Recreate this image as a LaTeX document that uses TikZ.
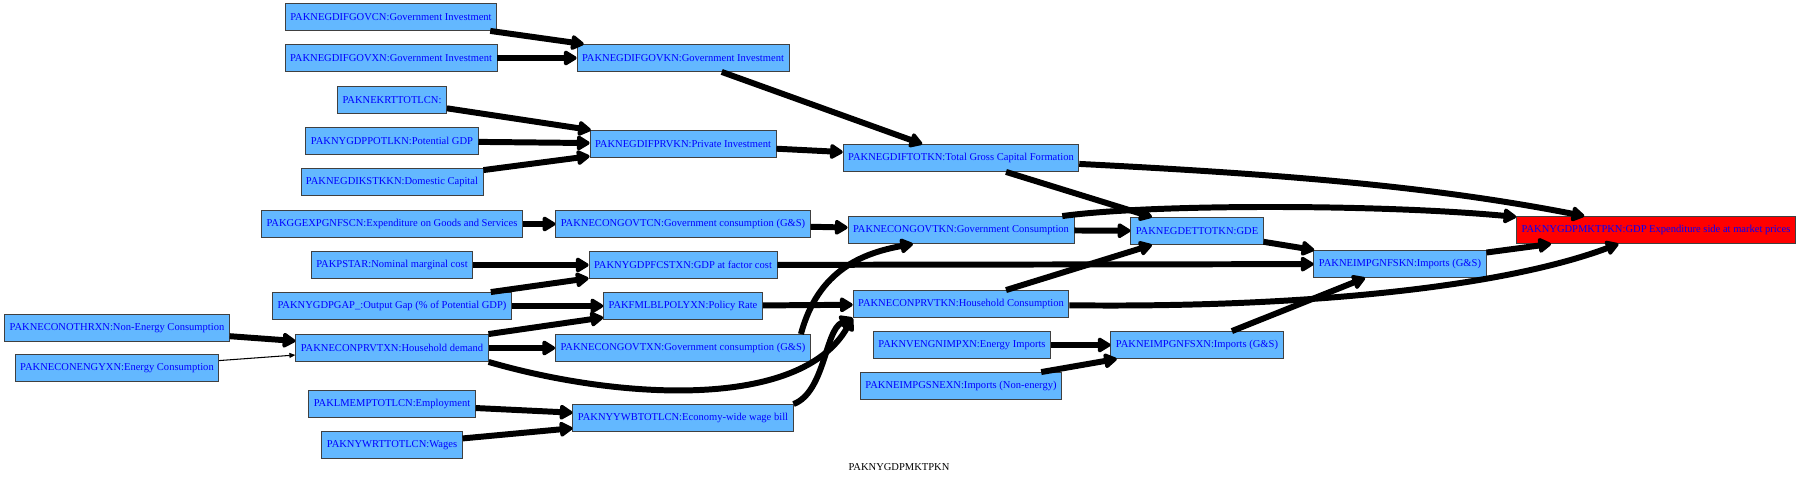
\documentclass[tikz,border=0pt]{standalone}
\usepackage{fontspec}
\setmainfont{Liberation Serif}
\usetikzlibrary{arrows.meta}
\definecolor{varblue}{HTML}{63B8FF}

\begin{document}
\begin{tikzpicture}[x=0.02cm, y=-0.02cm,
    var/.style={draw=black!75, line width=0.5pt, fill=varblue, text=blue,
      font=\fontsize{6}{7}\selectfont, inner xsep=0.1cm, inner ysep=0pt,
      minimum height=0.54cm},
    target/.style={var, fill=red},
    link/.style={line width=3.4pt, -{Triangle[length=0.29cm,width=0.33cm,round]}},
    thinlink/.style={line width=0.6pt, -{Triangle[length=0.12cm,width=0.1cm]}}]
  \useasboundingbox (0,0) rectangle (1800,480);

  % Far left inputs
  \node[var] (conothr) at (117,328) {PAKNECONOTHRXN:Non-Energy Consumption};
  \node[var] (conengy) at (117,368) {PAKNECONENGYXN:Energy Consumption};

  % Second column
  \node[var] (govcn) at (391,17) {PAKNEGDIFGOVCN:Government Investment};
  \node[var] (govxn) at (391,58) {PAKNEGDIFGOVXN:Government Investment};
  \node[var] (krt) at (392,100) {PAKNEKRTTOTLCN:};
  \node[var] (ygdppot) at (392,141) {PAKNYGDPPOTLKN:Potential GDP};
  \node[var] (diks) at (392,182) {PAKNEGDIKSTKKN:Domestic Capital};
  \node[var] (ggexp) at (392,224) {PAKGGEXPGNFSCN:Expenditure on Goods and Services};
  \node[var] (pstar) at (392,265) {PAKPSTAR:Nominal marginal cost};
  \node[var] (gap) at (392,306) {PAKNYGDPGAP\_:Output Gap (\% of Potential GDP)};
  \node[var] (conprvtxn) at (392,348) {PAKNECONPRVTXN:Household demand};
  \node[var] (lmemp) at (392,404) {PAKLMEMPTOTLCN:Employment};
  \node[var] (ywrt) at (392,445) {PAKNYWRTTOTLCN:Wages};

  % Third column
  \node[var] (govkn) at (683,58) {PAKNEGDIFGOVKN:Government Investment};
  \node[var] (prvkn) at (683,144) {PAKNEGDIFPRVKN:Private Investment};
  \node[var] (congovtcn) at (683,224) {PAKNECONGOVTCN:Government consumption (G\&S)};
  \node[var] (fcst) at (683,265) {PAKNYGDPFCSTXN:GDP at factor cost};
  \node[var] (polrate) at (683,306) {PAKFMLBLPOLYXN:Policy Rate};
  \node[var] (congovtxn) at (683,348) {PAKNECONGOVTXN:Government consumption (G\&S)};
  \node[var] (wagebill) at (683,418) {PAKNYYWBTOTLCN:Economy-wide wage bill};

  % Fourth column
  \node[var] (giftot) at (961,158) {PAKNEGDIFTOTKN:Total Gross Capital Formation};
  \node[var] (congovtkn) at (961,230) {PAKNECONGOVTKN:Government Consumption};
  \node[var] (conprvtkn) at (961,304) {PAKNECONPRVTKN:Household Consumption};
  \node[var] (engimp) at (962,345) {PAKNVENGNIMPXN:Energy Imports};
  \node[var] (impnen) at (961,386) {PAKNEIMPGSNEXN:Imports (Non-energy)};

  % Right side
  \node[var] (gde) at (1197,231) {PAKNEGDETTOTKN:GDE};
  \node[var] (impxn) at (1197,345) {PAKNEIMPGNFSXN:Imports (G\&S)};
  \node[var] (impkn) at (1400,264) {PAKNEIMPGNFSKN:Imports (G\&S)};
  \node[target] (gdp) at (1656,230) {PAKNYGDPMKTPKN:GDP Expenditure side at market prices};

  \node[font=\fontsize{6}{7}\selectfont] (title) at (899,467) {PAKNYGDPMKTPKN};

  % Straight links
  \foreach \a/\b in {govcn/govkn, govxn/govkn, krt/prvkn, ygdppot/prvkn,
      diks/prvkn, govkn/giftot, prvkn/giftot, giftot/gde, ggexp/congovtcn,
      congovtcn/congovtkn, congovtkn/gde, pstar/fcst, gap/fcst, gap/polrate,
      fcst/impkn, polrate/conprvtkn, conothr/conprvtxn, conprvtxn/polrate,
      conprvtxn/congovtxn, lmemp/wagebill, ywrt/wagebill, conprvtkn/gde,
      engimp/impxn, impnen/impxn, impxn/impkn, gde/impkn, impkn/gdp}
    \draw[link] (\a) -- (\b);
  \draw[thinlink] (conengy) -- (conprvtxn);

  % Curved links
  \draw[link] (giftot) .. controls (1300,175) and (1440,188) .. (gdp);
  \draw[link] (congovtkn) .. controls (1150,204) and (1378,204) .. (gdp);
  \draw[link] (conprvtkn) .. controls (1300,308) and (1500,288) .. (gdp);
  \draw[link] ([xshift=-0.2cm]congovtxn.north east) .. controls (818,270) and (863,253) .. ([xshift=-0.96cm]congovtkn.south);
  \draw[link] (conprvtxn.south east) .. controls (620,400) and (800,410) .. (conprvtkn.south west);
  \draw[link] (wagebill.north east) .. controls (825,392) and (825,330) .. (conprvtkn.south west);
\end{tikzpicture}
\end{document}
